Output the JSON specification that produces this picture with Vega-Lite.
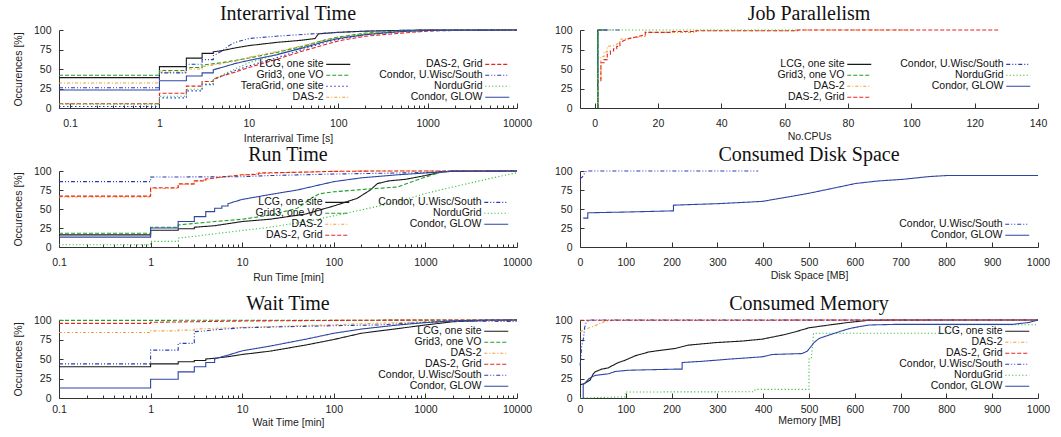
{
"$schema": "https://vega.github.io/schema/vega-lite/v6.json",
"padding": {"left": 13, "top": 4, "right": 5, "bottom": 0},
"config": {
  "view": {"stroke": null},
  "font": "Liberation Sans",
  "axis": {"domainColor": "#333", "tickColor": "#333", "labelColor": "#222", "labelFontSize": 10.5, "titleFontSize": 10.5, "titleFontWeight": "normal", "titleColor": "#222", "grid": false, "labelFont": "Liberation Sans", "titleFont": "Liberation Sans"},
  "title": {"font": "Liberation Serif", "fontSize": 20, "fontWeight": "normal", "color": "#111", "baseline": "alphabetic", "offset": 1, "anchor": "middle", "frame": "group"},
  "legend": {"orient": "bottom-right", "symbolType": "M-6,0H6", "symbolSize": 16, "symbolStrokeWidth": 1.2, "labelAlign": "right", "labelOffset": -20, "labelFontSize": 10.5, "labelFont": "Liberation Sans", "labelColor": "#111", "rowPadding": -2, "columnPadding": 26, "padding": 0, "offset": 6},
  "line": {"strokeWidth": 1.1, "clip": true}
},
"datasets": {
"ia": [
{"s":"LCG, one site","x":0.0752,"y":39},{"s":"LCG, one site","x":1,"y":39},{"s":"LCG, one site","x":1,"y":53},{"s":"LCG, one site","x":2,"y":53},{"s":"LCG, one site","x":2,"y":64},{"s":"LCG, one site","x":3,"y":64},{"s":"LCG, one site","x":3,"y":70},{"s":"LCG, one site","x":4,"y":70},{"s":"LCG, one site","x":4,"y":72},{"s":"LCG, one site","x":5,"y":73.5},{"s":"LCG, one site","x":7,"y":77},{"s":"LCG, one site","x":10,"y":80},{"s":"LCG, one site","x":20,"y":84},{"s":"LCG, one site","x":40,"y":87},{"s":"LCG, one site","x":55,"y":89},{"s":"LCG, one site","x":60,"y":95},{"s":"LCG, one site","x":100,"y":97},{"s":"LCG, one site","x":200,"y":98.5},{"s":"LCG, one site","x":500,"y":99.5},{"s":"LCG, one site","x":1000,"y":100},{"s":"LCG, one site","x":10000,"y":100},
{"s":"Grid3, one VO","x":0.0752,"y":42},{"s":"Grid3, one VO","x":1,"y":42},{"s":"Grid3, one VO","x":1,"y":48},{"s":"Grid3, one VO","x":2,"y":48},{"s":"Grid3, one VO","x":2,"y":52},{"s":"Grid3, one VO","x":3,"y":52},{"s":"Grid3, one VO","x":3,"y":55},{"s":"Grid3, one VO","x":5,"y":58},{"s":"Grid3, one VO","x":7,"y":61},{"s":"Grid3, one VO","x":10,"y":64},{"s":"Grid3, one VO","x":20,"y":71},{"s":"Grid3, one VO","x":40,"y":79},{"s":"Grid3, one VO","x":70,"y":87},{"s":"Grid3, one VO","x":100,"y":91},{"s":"Grid3, one VO","x":200,"y":96},{"s":"Grid3, one VO","x":500,"y":99},{"s":"Grid3, one VO","x":1000,"y":100},{"s":"Grid3, one VO","x":10000,"y":100},
{"s":"TeraGrid, one site","x":0.0752,"y":2},{"s":"TeraGrid, one site","x":1,"y":2},{"s":"TeraGrid, one site","x":1,"y":13},{"s":"TeraGrid, one site","x":2,"y":13},{"s":"TeraGrid, one site","x":2,"y":22},{"s":"TeraGrid, one site","x":3,"y":22},{"s":"TeraGrid, one site","x":3,"y":30},{"s":"TeraGrid, one site","x":4,"y":30},{"s":"TeraGrid, one site","x":4,"y":36},{"s":"TeraGrid, one site","x":5,"y":41},{"s":"TeraGrid, one site","x":7,"y":48},{"s":"TeraGrid, one site","x":10,"y":54},{"s":"TeraGrid, one site","x":20,"y":64},{"s":"TeraGrid, one site","x":40,"y":75},{"s":"TeraGrid, one site","x":70,"y":84},{"s":"TeraGrid, one site","x":100,"y":88},{"s":"TeraGrid, one site","x":200,"y":94},{"s":"TeraGrid, one site","x":500,"y":98},{"s":"TeraGrid, one site","x":1000,"y":99.5},{"s":"TeraGrid, one site","x":10000,"y":100},
{"s":"DAS-2","x":0.0752,"y":32},{"s":"DAS-2","x":1,"y":32},{"s":"DAS-2","x":1,"y":46},{"s":"DAS-2","x":2,"y":46},{"s":"DAS-2","x":2,"y":50},{"s":"DAS-2","x":3,"y":50},{"s":"DAS-2","x":3,"y":53},{"s":"DAS-2","x":5,"y":57},{"s":"DAS-2","x":7,"y":60},{"s":"DAS-2","x":10,"y":65},{"s":"DAS-2","x":20,"y":72},{"s":"DAS-2","x":40,"y":80},{"s":"DAS-2","x":70,"y":87},{"s":"DAS-2","x":100,"y":90},{"s":"DAS-2","x":200,"y":95},{"s":"DAS-2","x":500,"y":98.5},{"s":"DAS-2","x":1000,"y":99.5},{"s":"DAS-2","x":10000,"y":100},
{"s":"DAS-2, Grid","x":0.0752,"y":5.5},{"s":"DAS-2, Grid","x":1,"y":5.5},{"s":"DAS-2, Grid","x":1,"y":19},{"s":"DAS-2, Grid","x":2,"y":19},{"s":"DAS-2, Grid","x":2,"y":28},{"s":"DAS-2, Grid","x":3,"y":28},{"s":"DAS-2, Grid","x":3,"y":34},{"s":"DAS-2, Grid","x":4,"y":34},{"s":"DAS-2, Grid","x":4,"y":37},{"s":"DAS-2, Grid","x":5,"y":41},{"s":"DAS-2, Grid","x":7,"y":46},{"s":"DAS-2, Grid","x":10,"y":52},{"s":"DAS-2, Grid","x":20,"y":62},{"s":"DAS-2, Grid","x":40,"y":73},{"s":"DAS-2, Grid","x":70,"y":81},{"s":"DAS-2, Grid","x":100,"y":86},{"s":"DAS-2, Grid","x":200,"y":92},{"s":"DAS-2, Grid","x":500,"y":96},{"s":"DAS-2, Grid","x":1000,"y":98.5},{"s":"DAS-2, Grid","x":2000,"y":99.5},{"s":"DAS-2, Grid","x":10000,"y":100},
{"s":"Condor, U.Wisc/South","x":0.0752,"y":26},{"s":"Condor, U.Wisc/South","x":1,"y":26},{"s":"Condor, U.Wisc/South","x":1,"y":45},{"s":"Condor, U.Wisc/South","x":2,"y":45},{"s":"Condor, U.Wisc/South","x":2,"y":56},{"s":"Condor, U.Wisc/South","x":3,"y":56},{"s":"Condor, U.Wisc/South","x":3,"y":62},{"s":"Condor, U.Wisc/South","x":4,"y":62},{"s":"Condor, U.Wisc/South","x":4,"y":67},{"s":"Condor, U.Wisc/South","x":5,"y":73},{"s":"Condor, U.Wisc/South","x":6,"y":80},{"s":"Condor, U.Wisc/South","x":7,"y":84},{"s":"Condor, U.Wisc/South","x":10,"y":89},{"s":"Condor, U.Wisc/South","x":20,"y":92},{"s":"Condor, U.Wisc/South","x":50,"y":95},{"s":"Condor, U.Wisc/South","x":100,"y":97},{"s":"Condor, U.Wisc/South","x":200,"y":98.5},{"s":"Condor, U.Wisc/South","x":500,"y":99.5},{"s":"Condor, U.Wisc/South","x":1000,"y":100},{"s":"Condor, U.Wisc/South","x":10000,"y":100},
{"s":"NorduGrid","x":0.0752,"y":5},{"s":"NorduGrid","x":1,"y":5},{"s":"NorduGrid","x":1,"y":15},{"s":"NorduGrid","x":2,"y":15},{"s":"NorduGrid","x":2,"y":24},{"s":"NorduGrid","x":3,"y":24},{"s":"NorduGrid","x":3,"y":31},{"s":"NorduGrid","x":4,"y":31},{"s":"NorduGrid","x":4,"y":36},{"s":"NorduGrid","x":5,"y":42},{"s":"NorduGrid","x":7,"y":50},{"s":"NorduGrid","x":10,"y":58},{"s":"NorduGrid","x":20,"y":68},{"s":"NorduGrid","x":40,"y":78},{"s":"NorduGrid","x":70,"y":86},{"s":"NorduGrid","x":100,"y":90},{"s":"NorduGrid","x":200,"y":95},{"s":"NorduGrid","x":500,"y":98},{"s":"NorduGrid","x":1000,"y":99.5},{"s":"NorduGrid","x":10000,"y":100},
{"s":"Condor, GLOW","x":0.0752,"y":23},{"s":"Condor, GLOW","x":1,"y":23},{"s":"Condor, GLOW","x":1,"y":35},{"s":"Condor, GLOW","x":2,"y":35},{"s":"Condor, GLOW","x":2,"y":41},{"s":"Condor, GLOW","x":3,"y":41},{"s":"Condor, GLOW","x":3,"y":45},{"s":"Condor, GLOW","x":4,"y":45},{"s":"Condor, GLOW","x":4,"y":49},{"s":"Condor, GLOW","x":5,"y":52},{"s":"Condor, GLOW","x":7,"y":57},{"s":"Condor, GLOW","x":10,"y":61},{"s":"Condor, GLOW","x":20,"y":68},{"s":"Condor, GLOW","x":40,"y":77},{"s":"Condor, GLOW","x":70,"y":85},{"s":"Condor, GLOW","x":100,"y":89},{"s":"Condor, GLOW","x":200,"y":94},{"s":"Condor, GLOW","x":500,"y":98},{"s":"Condor, GLOW","x":1000,"y":99.5},{"s":"Condor, GLOW","x":10000,"y":100}
],
"jp": [
{"s":"LCG, one site","x":1,"y":0},{"s":"LCG, one site","x":1,"y":100},{"s":"LCG, one site","x":4,"y":100},
{"s":"Condor, GLOW","x":1,"y":0},{"s":"Condor, GLOW","x":1,"y":100},{"s":"Condor, GLOW","x":2,"y":100},
{"s":"DAS-2","x":1,"y":0},{"s":"DAS-2","x":1,"y":38},{"s":"DAS-2","x":2,"y":38},{"s":"DAS-2","x":2,"y":66},{"s":"DAS-2","x":3,"y":66},{"s":"DAS-2","x":3,"y":72},{"s":"DAS-2","x":4,"y":72},{"s":"DAS-2","x":4,"y":79},{"s":"DAS-2","x":6,"y":80},{"s":"DAS-2","x":8,"y":84},{"s":"DAS-2","x":8,"y":88},{"s":"DAS-2","x":12,"y":90},{"s":"DAS-2","x":16,"y":92},{"s":"DAS-2","x":16,"y":97},{"s":"DAS-2","x":32,"y":97},{"s":"DAS-2","x":32,"y":99},{"s":"DAS-2","x":64,"y":99},{"s":"DAS-2","x":64,"y":100},{"s":"DAS-2","x":100,"y":100},
{"s":"DAS-2, Grid","x":1,"y":0},{"s":"DAS-2, Grid","x":1,"y":35},{"s":"DAS-2, Grid","x":2,"y":35},{"s":"DAS-2, Grid","x":2,"y":58},{"s":"DAS-2, Grid","x":3,"y":58},{"s":"DAS-2, Grid","x":3,"y":62},{"s":"DAS-2, Grid","x":4,"y":62},{"s":"DAS-2, Grid","x":4,"y":69},{"s":"DAS-2, Grid","x":5,"y":69},{"s":"DAS-2, Grid","x":5,"y":73},{"s":"DAS-2, Grid","x":6,"y":73},{"s":"DAS-2, Grid","x":6,"y":76},{"s":"DAS-2, Grid","x":7,"y":76},{"s":"DAS-2, Grid","x":7,"y":79},{"s":"DAS-2, Grid","x":8,"y":79},{"s":"DAS-2, Grid","x":8,"y":84},{"s":"DAS-2, Grid","x":9,"y":86},{"s":"DAS-2, Grid","x":10,"y":88},{"s":"DAS-2, Grid","x":12,"y":90},{"s":"DAS-2, Grid","x":14,"y":92},{"s":"DAS-2, Grid","x":16,"y":94},{"s":"DAS-2, Grid","x":16,"y":97},{"s":"DAS-2, Grid","x":24,"y":97},{"s":"DAS-2, Grid","x":24,"y":98},{"s":"DAS-2, Grid","x":32,"y":98},{"s":"DAS-2, Grid","x":32,"y":99},{"s":"DAS-2, Grid","x":64,"y":99},{"s":"DAS-2, Grid","x":64,"y":100},{"s":"DAS-2, Grid","x":128,"y":100},
{"s":"Condor, U.Wisc/South","x":1,"y":0},{"s":"Condor, U.Wisc/South","x":1,"y":100},{"s":"Condor, U.Wisc/South","x":8,"y":100},
{"s":"NorduGrid","x":1,"y":0},{"s":"NorduGrid","x":1,"y":100},{"s":"NorduGrid","x":64,"y":100},
{"s":"Grid3, one VO","x":1,"y":0},{"s":"Grid3, one VO","x":1,"y":100},{"s":"Grid3, one VO","x":2,"y":100}
],
"rt": [
{"s":"LCG, one site","x":0.1,"y":16},{"s":"LCG, one site","x":1,"y":16},{"s":"LCG, one site","x":1,"y":22},{"s":"LCG, one site","x":2,"y":22},{"s":"LCG, one site","x":2,"y":24},{"s":"LCG, one site","x":3,"y":24},{"s":"LCG, one site","x":3,"y":26},{"s":"LCG, one site","x":5,"y":28},{"s":"LCG, one site","x":10,"y":33.5},{"s":"LCG, one site","x":20,"y":36.5},{"s":"LCG, one site","x":50,"y":43.5},{"s":"LCG, one site","x":100,"y":54},{"s":"LCG, one site","x":180,"y":64},{"s":"LCG, one site","x":250,"y":75},{"s":"LCG, one site","x":300,"y":83.5},{"s":"LCG, one site","x":400,"y":87},{"s":"LCG, one site","x":600,"y":89},{"s":"LCG, one site","x":1000,"y":94},{"s":"LCG, one site","x":1500,"y":98.7},{"s":"LCG, one site","x":2000,"y":100},{"s":"LCG, one site","x":10000,"y":100},
{"s":"Grid3, one VO","x":0.1,"y":18},{"s":"Grid3, one VO","x":1,"y":18},{"s":"Grid3, one VO","x":1,"y":26},{"s":"Grid3, one VO","x":2,"y":26},{"s":"Grid3, one VO","x":2,"y":29},{"s":"Grid3, one VO","x":5,"y":33.5},{"s":"Grid3, one VO","x":10,"y":36.5},{"s":"Grid3, one VO","x":20,"y":42},{"s":"Grid3, one VO","x":40,"y":51},{"s":"Grid3, one VO","x":60,"y":66},{"s":"Grid3, one VO","x":70,"y":70},{"s":"Grid3, one VO","x":100,"y":72.6},{"s":"Grid3, one VO","x":200,"y":75.6},{"s":"Grid3, one VO","x":500,"y":79},{"s":"Grid3, one VO","x":700,"y":85.6},{"s":"Grid3, one VO","x":1000,"y":92},{"s":"Grid3, one VO","x":1500,"y":98.7},{"s":"Grid3, one VO","x":2000,"y":100},{"s":"Grid3, one VO","x":10000,"y":100},
{"s":"DAS-2","x":0.1,"y":66},{"s":"DAS-2","x":1,"y":66},{"s":"DAS-2","x":1,"y":77},{"s":"DAS-2","x":2,"y":77},{"s":"DAS-2","x":2,"y":82.5},{"s":"DAS-2","x":3,"y":82.5},{"s":"DAS-2","x":3,"y":86.5},{"s":"DAS-2","x":5,"y":90.5},{"s":"DAS-2","x":10,"y":94.5},{"s":"DAS-2","x":15,"y":96.5},{"s":"DAS-2","x":30,"y":98},{"s":"DAS-2","x":100,"y":99.5},{"s":"DAS-2","x":300,"y":100},{"s":"DAS-2","x":10000,"y":100},
{"s":"DAS-2, Grid","x":0.1,"y":67},{"s":"DAS-2, Grid","x":1,"y":67},{"s":"DAS-2, Grid","x":1,"y":78},{"s":"DAS-2, Grid","x":2,"y":78},{"s":"DAS-2, Grid","x":2,"y":83},{"s":"DAS-2, Grid","x":3,"y":83},{"s":"DAS-2, Grid","x":3,"y":87},{"s":"DAS-2, Grid","x":4,"y":87},{"s":"DAS-2, Grid","x":4,"y":89.5},{"s":"DAS-2, Grid","x":5,"y":91},{"s":"DAS-2, Grid","x":7,"y":93},{"s":"DAS-2, Grid","x":10,"y":95},{"s":"DAS-2, Grid","x":15,"y":95.5},{"s":"DAS-2, Grid","x":15,"y":97.4},{"s":"DAS-2, Grid","x":30,"y":98},{"s":"DAS-2, Grid","x":100,"y":99.5},{"s":"DAS-2, Grid","x":300,"y":100},{"s":"DAS-2, Grid","x":10000,"y":100},
{"s":"Condor, U.Wisc/South","x":0.1,"y":86},{"s":"Condor, U.Wisc/South","x":1,"y":86},{"s":"Condor, U.Wisc/South","x":1,"y":92},{"s":"Condor, U.Wisc/South","x":10,"y":92.5},{"s":"Condor, U.Wisc/South","x":20,"y":94},{"s":"Condor, U.Wisc/South","x":100,"y":96},{"s":"Condor, U.Wisc/South","x":1000,"y":98},{"s":"Condor, U.Wisc/South","x":2000,"y":100},{"s":"Condor, U.Wisc/South","x":10000,"y":100},
{"s":"NorduGrid","x":0.1,"y":3},{"s":"NorduGrid","x":1,"y":3},{"s":"NorduGrid","x":1,"y":7.4},{"s":"NorduGrid","x":2,"y":7.4},{"s":"NorduGrid","x":2,"y":11.7},{"s":"NorduGrid","x":3,"y":14},{"s":"NorduGrid","x":5,"y":17.4},{"s":"NorduGrid","x":10,"y":21.7},{"s":"NorduGrid","x":20,"y":26},{"s":"NorduGrid","x":50,"y":33.5},{"s":"NorduGrid","x":100,"y":41},{"s":"NorduGrid","x":200,"y":48.7},{"s":"NorduGrid","x":500,"y":59.6},{"s":"NorduGrid","x":1000,"y":70.4},{"s":"NorduGrid","x":2000,"y":79},{"s":"NorduGrid","x":5000,"y":90},{"s":"NorduGrid","x":10000,"y":97.8},
{"s":"Condor, GLOW","x":0.1,"y":13},{"s":"Condor, GLOW","x":1,"y":13},{"s":"Condor, GLOW","x":1,"y":25},{"s":"Condor, GLOW","x":2,"y":25},{"s":"Condor, GLOW","x":2,"y":33.5},{"s":"Condor, GLOW","x":3,"y":33.5},{"s":"Condor, GLOW","x":3,"y":40},{"s":"Condor, GLOW","x":4,"y":40},{"s":"Condor, GLOW","x":4,"y":46.5},{"s":"Condor, GLOW","x":5,"y":46.5},{"s":"Condor, GLOW","x":5,"y":51},{"s":"Condor, GLOW","x":6,"y":51},{"s":"Condor, GLOW","x":6,"y":54},{"s":"Condor, GLOW","x":7,"y":54},{"s":"Condor, GLOW","x":7,"y":57},{"s":"Condor, GLOW","x":10,"y":62.6},{"s":"Condor, GLOW","x":20,"y":69},{"s":"Condor, GLOW","x":40,"y":75},{"s":"Condor, GLOW","x":100,"y":86},{"s":"Condor, GLOW","x":200,"y":91},{"s":"Condor, GLOW","x":500,"y":95},{"s":"Condor, GLOW","x":1000,"y":97.4},{"s":"Condor, GLOW","x":2000,"y":99.5},{"s":"Condor, GLOW","x":10000,"y":100}
],
"ds": [
{"s":"Condor, U.Wisc/South","x":0,"y":90},{"s":"Condor, U.Wisc/South","x":5,"y":92},{"s":"Condor, U.Wisc/South","x":8,"y":95},{"s":"Condor, U.Wisc/South","x":12,"y":99},{"s":"Condor, U.Wisc/South","x":15,"y":100},{"s":"Condor, U.Wisc/South","x":389,"y":100},
{"s":"Condor, GLOW","x":7,"y":38},{"s":"Condor, GLOW","x":17,"y":38},{"s":"Condor, GLOW","x":17,"y":45},{"s":"Condor, GLOW","x":100,"y":46},{"s":"Condor, GLOW","x":200,"y":47.5},{"s":"Condor, GLOW","x":204,"y":47.5},{"s":"Condor, GLOW","x":204,"y":55},{"s":"Condor, GLOW","x":250,"y":56},{"s":"Condor, GLOW","x":300,"y":57},{"s":"Condor, GLOW","x":350,"y":58.5},{"s":"Condor, GLOW","x":398,"y":60},{"s":"Condor, GLOW","x":456,"y":66},{"s":"Condor, GLOW","x":500,"y":70.7},{"s":"Condor, GLOW","x":558,"y":78},{"s":"Condor, GLOW","x":602,"y":83.6},{"s":"Condor, GLOW","x":653,"y":87},{"s":"Condor, GLOW","x":704,"y":89},{"s":"Condor, GLOW","x":763,"y":92.7},{"s":"Condor, GLOW","x":800,"y":94},{"s":"Condor, GLOW","x":1000,"y":94}
],
"wt": [
{"s":"LCG, one site","x":0.1,"y":40},{"s":"LCG, one site","x":1,"y":40},{"s":"LCG, one site","x":1,"y":43.8},{"s":"LCG, one site","x":2,"y":43.8},{"s":"LCG, one site","x":2,"y":46.4},{"s":"LCG, one site","x":3,"y":46.4},{"s":"LCG, one site","x":3,"y":48},{"s":"LCG, one site","x":4,"y":48},{"s":"LCG, one site","x":4,"y":50},{"s":"LCG, one site","x":5,"y":51},{"s":"LCG, one site","x":7,"y":53},{"s":"LCG, one site","x":10,"y":55.8},{"s":"LCG, one site","x":20,"y":60},{"s":"LCG, one site","x":50,"y":68},{"s":"LCG, one site","x":100,"y":75},{"s":"LCG, one site","x":200,"y":83},{"s":"LCG, one site","x":500,"y":89},{"s":"LCG, one site","x":1000,"y":93.6},{"s":"LCG, one site","x":2000,"y":97.8},{"s":"LCG, one site","x":5000,"y":99.5},{"s":"LCG, one site","x":10000,"y":100},
{"s":"Grid3, one VO","x":0.1,"y":99.5},{"s":"Grid3, one VO","x":100,"y":99.7},{"s":"Grid3, one VO","x":10000,"y":100},
{"s":"DAS-2","x":0.1,"y":84},{"s":"DAS-2","x":1,"y":84},{"s":"DAS-2","x":1,"y":86},{"s":"DAS-2","x":2,"y":86},{"s":"DAS-2","x":2,"y":87},{"s":"DAS-2","x":3,"y":87},{"s":"DAS-2","x":3,"y":88.4},{"s":"DAS-2","x":10,"y":90.5},{"s":"DAS-2","x":100,"y":94},{"s":"DAS-2","x":1000,"y":97.8},{"s":"DAS-2","x":10000,"y":100},
{"s":"DAS-2, Grid","x":0.1,"y":95.7},{"s":"DAS-2, Grid","x":1,"y":95.7},{"s":"DAS-2, Grid","x":1,"y":97},{"s":"DAS-2, Grid","x":10,"y":98.7},{"s":"DAS-2, Grid","x":100,"y":99.5},{"s":"DAS-2, Grid","x":1000,"y":100},{"s":"DAS-2, Grid","x":10000,"y":100},
{"s":"Condor, U.Wisc/South","x":0.1,"y":43.8},{"s":"Condor, U.Wisc/South","x":1,"y":43.8},{"s":"Condor, U.Wisc/South","x":1,"y":61.4},{"s":"Condor, U.Wisc/South","x":2,"y":61.4},{"s":"Condor, U.Wisc/South","x":2,"y":70},{"s":"Condor, U.Wisc/South","x":3,"y":70},{"s":"Condor, U.Wisc/South","x":3,"y":85},{"s":"Condor, U.Wisc/South","x":4,"y":86},{"s":"Condor, U.Wisc/South","x":5,"y":87.5},{"s":"Condor, U.Wisc/South","x":10,"y":90},{"s":"Condor, U.Wisc/South","x":30,"y":91.4},{"s":"Condor, U.Wisc/South","x":100,"y":92.7},{"s":"Condor, U.Wisc/South","x":300,"y":93.6},{"s":"Condor, U.Wisc/South","x":1000,"y":97},{"s":"Condor, U.Wisc/South","x":3000,"y":98.7},{"s":"Condor, U.Wisc/South","x":10000,"y":98},
{"s":"Condor, GLOW","x":0.1,"y":12.9},{"s":"Condor, GLOW","x":1,"y":12.9},{"s":"Condor, GLOW","x":1,"y":24},{"s":"Condor, GLOW","x":2,"y":24},{"s":"Condor, GLOW","x":2,"y":33.5},{"s":"Condor, GLOW","x":3,"y":33.5},{"s":"Condor, GLOW","x":3,"y":40},{"s":"Condor, GLOW","x":4,"y":40},{"s":"Condor, GLOW","x":4,"y":45.5},{"s":"Condor, GLOW","x":5,"y":45.5},{"s":"Condor, GLOW","x":5,"y":50},{"s":"Condor, GLOW","x":6,"y":52.8},{"s":"Condor, GLOW","x":7,"y":55},{"s":"Condor, GLOW","x":8,"y":57},{"s":"Condor, GLOW","x":10,"y":60.5},{"s":"Condor, GLOW","x":20,"y":66.5},{"s":"Condor, GLOW","x":50,"y":75.5},{"s":"Condor, GLOW","x":100,"y":83},{"s":"Condor, GLOW","x":200,"y":88.4},{"s":"Condor, GLOW","x":500,"y":93.6},{"s":"Condor, GLOW","x":1000,"y":96.6},{"s":"Condor, GLOW","x":2000,"y":99},{"s":"Condor, GLOW","x":5000,"y":100},{"s":"Condor, GLOW","x":10000,"y":100}
],
"mem": [
{"s":"LCG, one site","x":0,"y":17},{"s":"LCG, one site","x":10,"y":18.5},{"s":"LCG, one site","x":15,"y":20.6},{"s":"LCG, one site","x":22,"y":23},{"s":"LCG, one site","x":29,"y":31},{"s":"LCG, one site","x":33,"y":33.5},{"s":"LCG, one site","x":47,"y":37},{"s":"LCG, one site","x":62,"y":38.6},{"s":"LCG, one site","x":69,"y":41},{"s":"LCG, one site","x":84,"y":45.5},{"s":"LCG, one site","x":99,"y":48.5},{"s":"LCG, one site","x":120,"y":54},{"s":"LCG, one site","x":150,"y":59},{"s":"LCG, one site","x":179,"y":61.4},{"s":"LCG, one site","x":208,"y":63.5},{"s":"LCG, one site","x":237,"y":67.8},{"s":"LCG, one site","x":296,"y":71},{"s":"LCG, one site","x":354,"y":73},{"s":"LCG, one site","x":398,"y":75.5},{"s":"LCG, one site","x":442,"y":80.7},{"s":"LCG, one site","x":471,"y":85},{"s":"LCG, one site","x":500,"y":90},{"s":"LCG, one site","x":544,"y":93.6},{"s":"LCG, one site","x":588,"y":97},{"s":"LCG, one site","x":631,"y":99.6},{"s":"LCG, one site","x":690,"y":100},{"s":"LCG, one site","x":1000,"y":100},
{"s":"DAS-2","x":0,"y":85},{"s":"DAS-2","x":15,"y":89},{"s":"DAS-2","x":33,"y":92.7},{"s":"DAS-2","x":44,"y":95.7},{"s":"DAS-2","x":58,"y":98.7},{"s":"DAS-2","x":77,"y":100},{"s":"DAS-2","x":1000,"y":100},
{"s":"DAS-2, Grid","x":0,"y":99.6},{"s":"DAS-2, Grid","x":1000,"y":100},
{"s":"Condor, U.Wisc/South","x":0,"y":42},{"s":"Condor, U.Wisc/South","x":2,"y":50},{"s":"Condor, U.Wisc/South","x":3,"y":64},{"s":"Condor, U.Wisc/South","x":5,"y":70},{"s":"Condor, U.Wisc/South","x":8,"y":78},{"s":"Condor, U.Wisc/South","x":10,"y":90},{"s":"Condor, U.Wisc/South","x":13,"y":96},{"s":"Condor, U.Wisc/South","x":18,"y":99},{"s":"Condor, U.Wisc/South","x":25,"y":100},{"s":"Condor, U.Wisc/South","x":1000,"y":100},
{"s":"NorduGrid","x":0,"y":0},{"s":"NorduGrid","x":30,"y":0.5},{"s":"NorduGrid","x":99,"y":1.5},{"s":"NorduGrid","x":99,"y":7.7},{"s":"NorduGrid","x":380,"y":8},{"s":"NorduGrid","x":383,"y":11},{"s":"NorduGrid","x":500,"y":11},{"s":"NorduGrid","x":500,"y":50},{"s":"NorduGrid","x":505,"y":50},{"s":"NorduGrid","x":510,"y":83},{"s":"NorduGrid","x":800,"y":83},{"s":"NorduGrid","x":800,"y":94},{"s":"NorduGrid","x":1000,"y":94},
{"s":"Condor, GLOW","x":7,"y":0},{"s":"Condor, GLOW","x":7,"y":17},{"s":"Condor, GLOW","x":20,"y":25},{"s":"Condor, GLOW","x":33,"y":29},{"s":"Condor, GLOW","x":62,"y":31},{"s":"Condor, GLOW","x":77,"y":34},{"s":"Condor, GLOW","x":106,"y":35.6},{"s":"Condor, GLOW","x":208,"y":37},{"s":"Condor, GLOW","x":223,"y":37},{"s":"Condor, GLOW","x":223,"y":45.5},{"s":"Condor, GLOW","x":266,"y":47},{"s":"Condor, GLOW","x":325,"y":49.8},{"s":"Condor, GLOW","x":398,"y":52.8},{"s":"Condor, GLOW","x":420,"y":55.8},{"s":"Condor, GLOW","x":485,"y":57},{"s":"Condor, GLOW","x":496,"y":60},{"s":"Condor, GLOW","x":504,"y":65.7},{"s":"Condor, GLOW","x":511,"y":71},{"s":"Condor, GLOW","x":522,"y":76.4},{"s":"Condor, GLOW","x":544,"y":80.7},{"s":"Condor, GLOW","x":566,"y":85},{"s":"Condor, GLOW","x":588,"y":89},{"s":"Condor, GLOW","x":609,"y":91.4},{"s":"Condor, GLOW","x":631,"y":93.6},{"s":"Condor, GLOW","x":690,"y":94.4},{"s":"Condor, GLOW","x":945,"y":94.4},{"s":"Condor, GLOW","x":982,"y":97},{"s":"Condor, GLOW","x":1000,"y":100}
]
},
"vconcat": [
 {"hconcat": [
  {"width": 458, "height": 78, "title": "Interarrival Time", "data": {"name": "ia"}, "mark": {"type": "line"},
   "encoding": {
    "x": {"field": "x", "type": "quantitative", "scale": {"type": "log", "domain": [0.0752, 10000], "nice": false}, "axis": {"title": "Interarrival Time [s]", "values": [0.1,0.2,0.3,0.4,0.5,0.6,0.7,0.8,0.9,1,2,3,4,5,6,7,8,9,10,20,30,40,50,60,70,80,90,100,200,300,400,500,600,700,800,900,1000,2000,3000,4000,5000,6000,7000,8000,9000,10000], "format": "~g", "labelExpr": "indexof([0.1,1,10,100,1000,10000], datum.value) >= 0 ? datum.label : ''", "tickSize": {"condition": {"test": "indexof([0.1,1,10,100,1000,10000], datum.value) >= 0", "value": -5}, "value": -3}, "labelPadding": 15, "titlePadding": 3, "labelFlush": false, "labelOverlap": false}},
    "y": {"field": "y", "type": "quantitative", "scale": {"domain": [0, 100], "nice": false}, "axis": {"title": "Occurences [%]", "values": [0,25,50,75,100], "tickSize": -4, "labelPadding": 12, "titlePadding": 10}},
    "color": {"field": "s", "type": "nominal", "scale": {"domain": ["LCG, one site","Grid3, one VO","TeraGrid, one site","DAS-2","DAS-2, Grid","Condor, U.Wisc/South","NorduGrid","Condor, GLOW"], "range": ["#1a1a1a","#1f9e2c","#2233dd","#f5a033","#e8231f","#2a3ab8","#3cc23c","#2e45a3"]}, "legend": {"title": null, "columns": 2, "offset": 5}},
    "strokeDash": {"field": "s", "type": "nominal", "scale": {"domain": ["LCG, one site","Grid3, one VO","TeraGrid, one site","DAS-2","DAS-2, Grid","Condor, U.Wisc/South","NorduGrid","Condor, GLOW"], "range": [[1,0],[4,2],[1.5,2.5],[3,2,1,2],[4,2],[4,2,1,2,1,2],[1.2,2.2],[1,0]]}, "legend": {"title": null, "columns": 2, "offset": 5}},
    "order": {"value": null}
   }},
  {"width": 458, "height": 78, "title": "Job Parallelism", "data": {"name": "jp"}, "mark": {"type": "line"},
   "encoding": {
    "x": {"field": "x", "type": "quantitative", "scale": {"domain": [-4.6, 140], "nice": false, "zero": false}, "axis": {"title": "No.CPUs", "values": [0,20,40,60,80,100,120,140], "tickSize": -5, "labelPadding": 15, "titlePadding": 3, "labelFlush": false}},
    "y": {"field": "y", "type": "quantitative", "scale": {"domain": [0, 100], "nice": false}, "axis": {"title": null, "values": [0,25,50,75,100], "tickSize": -4, "labelPadding": 12}},
    "color": {"field": "s", "type": "nominal", "scale": {"domain": ["LCG, one site","Grid3, one VO","DAS-2","DAS-2, Grid","Condor, U.Wisc/South","NorduGrid","Condor, GLOW"], "range": ["#1a1a1a","#1f9e2c","#f5a033","#e8231f","#2a3ab8","#3cc23c","#2e45a3"]}, "legend": {"title": null, "columns": 2, "offset": 5}},
    "strokeDash": {"field": "s", "type": "nominal", "scale": {"domain": ["LCG, one site","Grid3, one VO","DAS-2","DAS-2, Grid","Condor, U.Wisc/South","NorduGrid","Condor, GLOW"], "range": [[1,0],[4,2],[3,2,1,2],[4,2],[4,2,1,2,1,2],[1.2,2.2],[1,0]]}, "legend": {"title": null, "columns": 2, "offset": 5}},
    "order": {"value": null}
   }}
 ], "spacing": 22, "resolve": {"scale": {"color": "independent", "strokeDash": "independent"}}},
 {"vconcat": [
  {"hconcat": [
   {"width": 458, "height": 76, "title": "Run Time", "data": {"name": "rt"}, "mark": {"type": "line"},
    "encoding": {
     "x": {"field": "x", "type": "quantitative", "scale": {"type": "log", "domain": [0.1, 10000], "nice": false}, "axis": {"title": "Run Time [min]", "values": [0.1,0.2,0.3,0.4,0.5,0.6,0.7,0.8,0.9,1,2,3,4,5,6,7,8,9,10,20,30,40,50,60,70,80,90,100,200,300,400,500,600,700,800,900,1000,2000,3000,4000,5000,6000,7000,8000,9000,10000], "format": "~g", "labelExpr": "indexof([0.1,1,10,100,1000,10000], datum.value) >= 0 ? datum.label : ''", "tickSize": {"condition": {"test": "indexof([0.1,1,10,100,1000,10000], datum.value) >= 0", "value": -5}, "value": -3}, "labelPadding": 15, "titlePadding": 3, "labelFlush": false, "labelOverlap": false}},
     "y": {"field": "y", "type": "quantitative", "scale": {"domain": [0, 100], "nice": false}, "axis": {"title": "Occurences [%]", "values": [0,25,50,75,100], "tickSize": -4, "labelPadding": 12, "titlePadding": 10}},
     "color": {"field": "s", "type": "nominal", "scale": {"domain": ["LCG, one site","Grid3, one VO","DAS-2","DAS-2, Grid","Condor, U.Wisc/South","NorduGrid","Condor, GLOW"], "range": ["#1a1a1a","#1f9e2c","#f5a033","#e8231f","#2a3ab8","#3cc23c","#2e45a3"]}, "legend": {"title": null, "columns": 2, "offset": 6}},
     "strokeDash": {"field": "s", "type": "nominal", "scale": {"domain": ["LCG, one site","Grid3, one VO","DAS-2","DAS-2, Grid","Condor, U.Wisc/South","NorduGrid","Condor, GLOW"], "range": [[1,0],[4,2],[3,2,1,2],[4,2],[4,2,1,2,1,2],[1.2,2.2],[1,0]]}, "legend": {"title": null, "columns": 2, "offset": 6}},
     "order": {"value": null}
    }},
   {"width": 458, "height": 76, "title": "Consumed Disk Space", "data": {"name": "ds"}, "mark": {"type": "line"},
    "encoding": {
     "x": {"field": "x", "type": "quantitative", "scale": {"domain": [0, 1000], "nice": false}, "axis": {"title": "Disk Space [MB]", "values": [0,100,200,300,400,500,600,700,800,900,1000], "format": "d", "tickSize": -5, "labelPadding": 15, "titlePadding": 3, "labelFlush": false}},
     "y": {"field": "y", "type": "quantitative", "scale": {"domain": [0, 100], "nice": false}, "axis": {"title": null, "values": [0,25,50,75,100], "tickSize": -4, "labelPadding": 12}},
     "color": {"field": "s", "type": "nominal", "scale": {"domain": ["Condor, U.Wisc/South","Condor, GLOW"], "range": ["#2a3ab8","#2e45a3"]}, "legend": {"title": null, "offset": 6}},
     "strokeDash": {"field": "s", "type": "nominal", "scale": {"domain": ["Condor, U.Wisc/South","Condor, GLOW"], "range": [[4,2,1,2,1,2],[1,0]]}, "legend": {"title": null, "offset": 6}},
     "order": {"value": null}
    }}
  ], "spacing": 22, "resolve": {"scale": {"color": "independent", "strokeDash": "independent"}}},
  {"hconcat": [
   {"width": 458, "height": 78, "title": "Wait Time", "data": {"name": "wt"}, "mark": {"type": "line"},
    "encoding": {
     "x": {"field": "x", "type": "quantitative", "scale": {"type": "log", "domain": [0.1, 10000], "nice": false}, "axis": {"title": "Wait Time [min]", "values": [0.1,0.2,0.3,0.4,0.5,0.6,0.7,0.8,0.9,1,2,3,4,5,6,7,8,9,10,20,30,40,50,60,70,80,90,100,200,300,400,500,600,700,800,900,1000,2000,3000,4000,5000,6000,7000,8000,9000,10000], "format": "~g", "labelExpr": "indexof([0.1,1,10,100,1000,10000], datum.value) >= 0 ? datum.label : ''", "tickSize": {"condition": {"test": "indexof([0.1,1,10,100,1000,10000], datum.value) >= 0", "value": -5}, "value": -3}, "labelPadding": 11, "titlePadding": 1, "labelFlush": false, "labelOverlap": false}},
     "y": {"field": "y", "type": "quantitative", "scale": {"domain": [0, 100], "nice": false}, "axis": {"title": "Occurences [%]", "values": [0,25,50,75,100], "tickSize": -4, "labelPadding": 12, "titlePadding": 10}},
     "color": {"field": "s", "type": "nominal", "scale": {"domain": ["LCG, one site","Grid3, one VO","DAS-2","DAS-2, Grid","Condor, U.Wisc/South","Condor, GLOW"], "range": ["#1a1a1a","#1f9e2c","#f5a033","#e8231f","#2a3ab8","#2e45a3"]}, "legend": {"title": null, "offset": 6}},
     "strokeDash": {"field": "s", "type": "nominal", "scale": {"domain": ["LCG, one site","Grid3, one VO","DAS-2","DAS-2, Grid","Condor, U.Wisc/South","Condor, GLOW"], "range": [[1,0],[4,2],[3,2,1,2],[4,2],[4,2,1,2,1,2],[1,0]]}, "legend": {"title": null, "offset": 6}},
     "order": {"value": null}
    }},
   {"width": 458, "height": 78, "title": "Consumed Memory", "data": {"name": "mem"}, "mark": {"type": "line"},
    "encoding": {
     "x": {"field": "x", "type": "quantitative", "scale": {"domain": [0, 1000], "nice": false}, "axis": {"title": "Memory [MB]", "values": [0,100,200,300,400,500,600,700,800,900,1000], "format": "d", "tickSize": -5, "labelPadding": 11, "titlePadding": 1, "labelFlush": false}},
     "y": {"field": "y", "type": "quantitative", "scale": {"domain": [0, 100], "nice": false}, "axis": {"title": null, "values": [0,25,50,75,100], "tickSize": -4, "labelPadding": 12}},
     "color": {"field": "s", "type": "nominal", "scale": {"domain": ["LCG, one site","DAS-2","DAS-2, Grid","Condor, U.Wisc/South","NorduGrid","Condor, GLOW"], "range": ["#1a1a1a","#f5a033","#e8231f","#2a3ab8","#3cc23c","#2e45a3"]}, "legend": {"title": null, "offset": 6}},
     "strokeDash": {"field": "s", "type": "nominal", "scale": {"domain": ["LCG, one site","DAS-2","DAS-2, Grid","Condor, U.Wisc/South","NorduGrid","Condor, GLOW"], "range": [[1,0],[3,2,1,2],[4,2],[4,2,1,2,1,2],[1.2,2.2],[1,0]]}, "legend": {"title": null, "offset": 6}},
     "order": {"value": null}
    }}
  ], "spacing": 22, "resolve": {"scale": {"color": "independent", "strokeDash": "independent"}}}
 ], "spacing": 11, "resolve": {"scale": {"color": "independent", "strokeDash": "independent"}}}
],
"spacing": 1,
"resolve": {"scale": {"color": "independent", "strokeDash": "independent"}}
}
